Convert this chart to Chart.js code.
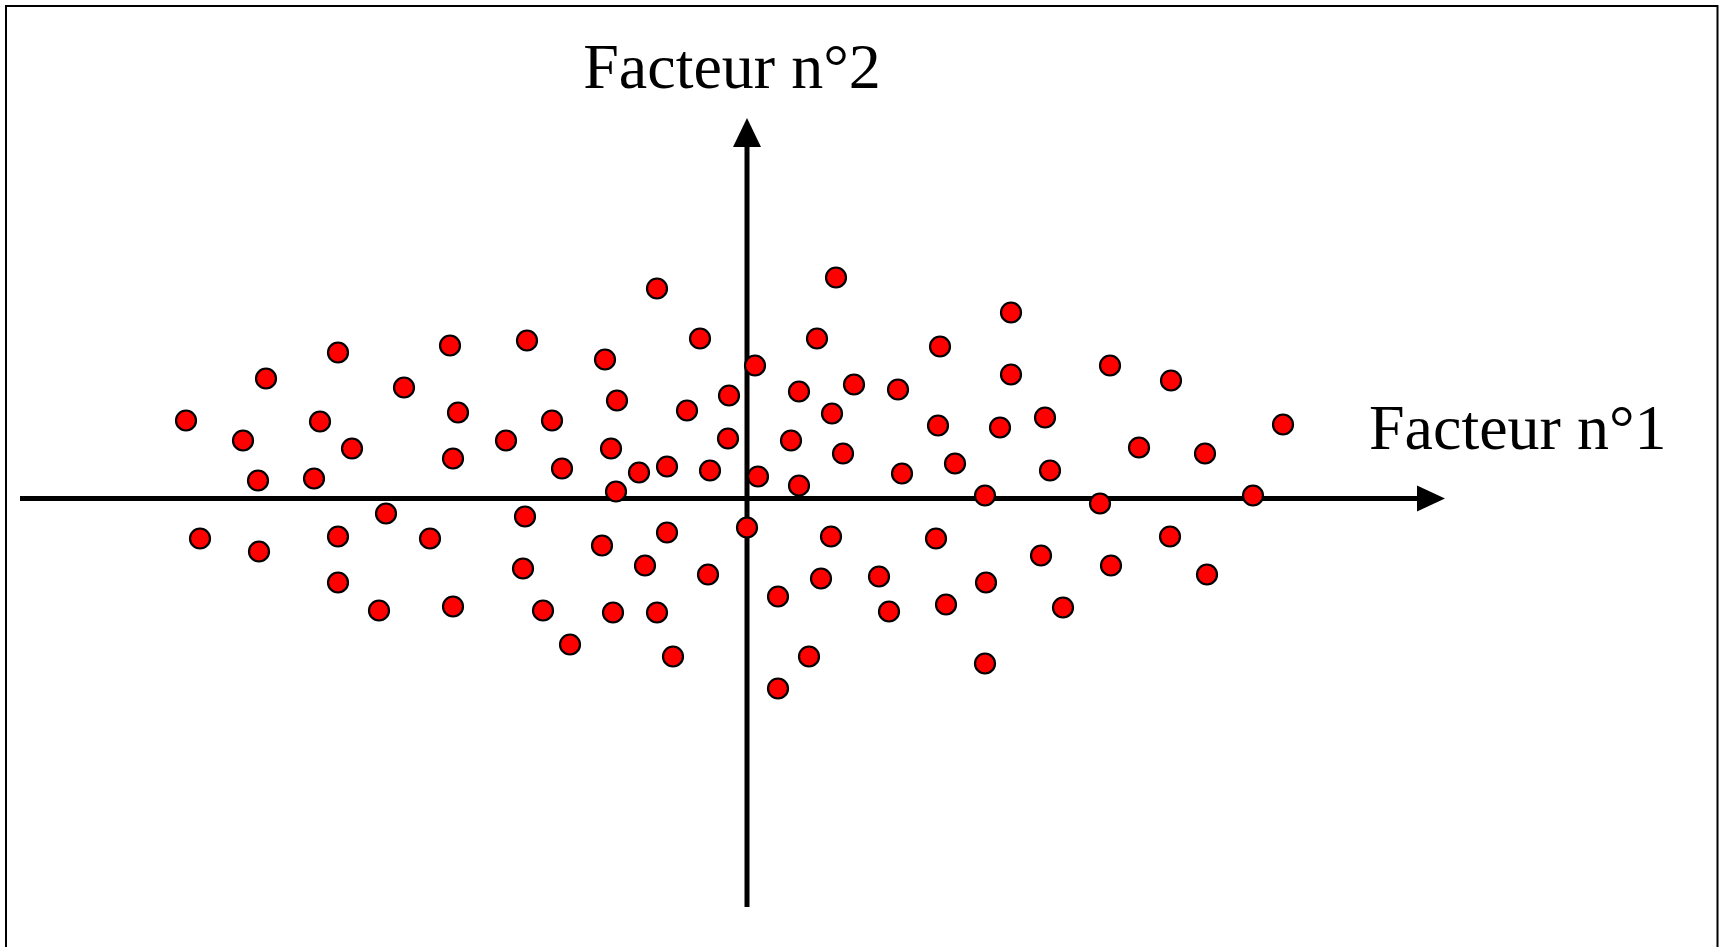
<!DOCTYPE html>
<html>
<head>
<meta charset="utf-8">
<script src="https://cdn.jsdelivr.net/npm/chart.js@4/dist/chart.umd.min.js"></script>
<style>
  html, body { margin: 0; padding: 0; background: #ffffff; }
  #wrap { position: relative; width: 1722px; height: 947px; }
  canvas { display: block; }
</style>
</head>
<body>
<div id="wrap"><canvas id="c" width="1722" height="947"></canvas></div>
<script>
// Axis titles
const xAxisLabel = 'Facteur n°1';
const yAxisLabel = 'Facteur n°2';

// Coordinates of the individuals on the factorial plane
const factor1 = [
  -5.61, -4.81, -4.09, -5.04, -4.27, -3.95, -4.89, -4.33, -3.43, -2.97,
  -2.89, -2.94, -2.20, -2.41, -1.95, -1.85, -5.47, -4.88, -4.09, -3.61,
  -3.17, -4.09, -3.68, -2.94, -2.22, -2.24, -2.04, -1.77,
  -0.90, -0.47, -1.42, 0.08, -0.18, -1.30, -0.60, -0.19, -1.36, -1.08,
  -0.80, -0.37, -1.31, 0.11, 0.52, 0.44, 0.52, 0.85, 1.07, 1.51,
  0.89, 0.70, 1.93, 1.91, 0.96, 1.55, 2.08, 2.38, 0.00, -0.80,
  -1.45, -1.02, -0.39, -1.34, -0.90, -0.74, 0.31, 0.74, 0.84, 1.32,
  1.42, 1.89, 1.99, 2.39, 2.38, 0.62, 0.31,
  2.64, 2.64, 3.63, 4.24, 2.53, 2.98, 5.36, 3.92, 4.58, 3.03,
  3.53, 5.06, 4.23, 2.94, 3.64, 4.60, 3.16
];
const factor2 = [
  0.78, 1.20, 1.46, 0.58, 0.77, 0.50, 0.18, 0.20, 1.11, 1.53,
  0.86, 0.40, 1.58, 0.58, 0.78, 0.30, -0.40, -0.53, -0.38, -0.15,
  -0.40, -0.84, -1.12, -1.08, -0.18, -0.70, -1.12, -1.46,
  2.10, 1.60, 1.39, 1.33, 1.03, 0.98, 0.88, 0.60, 0.50, 0.26,
  0.32, 0.28, 0.07, 0.22, 0.13, 0.58, 1.07, 0.85, 1.14, 1.09,
  2.21, 1.60, 1.52, 0.73, 0.45, 0.25, 0.35, 0.03, -0.29, -0.34,
  -0.47, -0.67, -0.76, -1.14, -1.14, -1.58, -0.98, -0.80, -0.38, -0.78,
  -1.13, -0.40, -1.06, -0.84, -1.65, -1.58, -1.90,
  1.86, 1.24, 1.33, 1.18, 0.71, 0.81, 0.74, 0.51, 0.45, 0.28,
  -0.05, 0.03, -0.38, -0.57, -0.67, -0.76, -1.09
];

// Visible extent of the drawn axes (in data units)
const xAxisFrom = -7.27, xAxisTo = 6.98;
const yAxisFrom = -4.085, yAxisTo = 3.805;

const points = factor1.map((v, i) => ({ x: v, y: factor2[i] }));

const axesPlugin = {
  id: 'factorAxes',
  beforeDatasetsDraw(chart) {
    const ctx = chart.ctx;
    const xs = chart.scales.x, ys = chart.scales.y;
    const x0 = xs.getPixelForValue(0), y0 = ys.getPixelForValue(0);
    const xa = xs.getPixelForValue(xAxisFrom), xb = xs.getPixelForValue(xAxisTo);
    const ya = ys.getPixelForValue(yAxisFrom), yb = ys.getPixelForValue(yAxisTo);
    ctx.save();
    // frame
    ctx.strokeStyle = '#000';
    ctx.lineWidth = 2;
    ctx.beginPath();
    ctx.moveTo(6, 947);
    ctx.lineTo(6, 6);
    ctx.lineTo(1717.5, 6);
    ctx.lineTo(1717.5, 947);
    ctx.stroke();
    // axis lines
    ctx.lineWidth = 5;
    ctx.lineCap = 'butt';
    ctx.beginPath();
    ctx.moveTo(xa, y0);
    ctx.lineTo(xb - 20, y0);
    ctx.moveTo(x0, ya);
    ctx.lineTo(x0, yb + 20);
    ctx.stroke();
    // arrow heads
    ctx.fillStyle = '#000';
    ctx.beginPath();
    ctx.moveTo(xb, y0);
    ctx.lineTo(xb - 28, y0 - 13);
    ctx.lineTo(xb - 28, y0 + 13);
    ctx.closePath();
    ctx.fill();
    ctx.beginPath();
    ctx.moveTo(x0, yb);
    ctx.lineTo(x0 - 14, yb + 29);
    ctx.lineTo(x0 + 14, yb + 29);
    ctx.closePath();
    ctx.fill();
    // axis titles
    ctx.font = '64px "Liberation Serif", "Times New Roman", serif';
    ctx.textBaseline = 'alphabetic';
    ctx.textAlign = 'center';
    ctx.fillText(yAxisLabel, x0 - 15, 88);
    ctx.textAlign = 'left';
    ctx.fillText(xAxisLabel, 1369, y0 - 50);
    ctx.restore();
  }
};

new Chart(document.getElementById('c'), {
  type: 'scatter',
  data: {
    datasets: [{
      label: 'Individus',
      data: points,
      pointRadius: 10,
      pointHoverRadius: 10,
      pointBackgroundColor: '#ff0000',
      pointBorderColor: '#000000',
      pointBorderWidth: 2.2,
      pointHoverBorderWidth: 2.2
    }]
  },
  options: {
    responsive: false,
    animation: false,
    devicePixelRatio: 1,
    layout: { padding: 0, autoPadding: false },
    plugins: { legend: { display: false }, tooltip: { enabled: false }, title: { display: false } },
    events: [],
    scales: {
      x: { type: 'linear', display: false, min: -7.47, max: 9.75 },
      y: { type: 'linear', display: false, min: -4.485, max: 4.985 }
    }
  },
  plugins: [axesPlugin]
});
</script>
</body>
</html>
